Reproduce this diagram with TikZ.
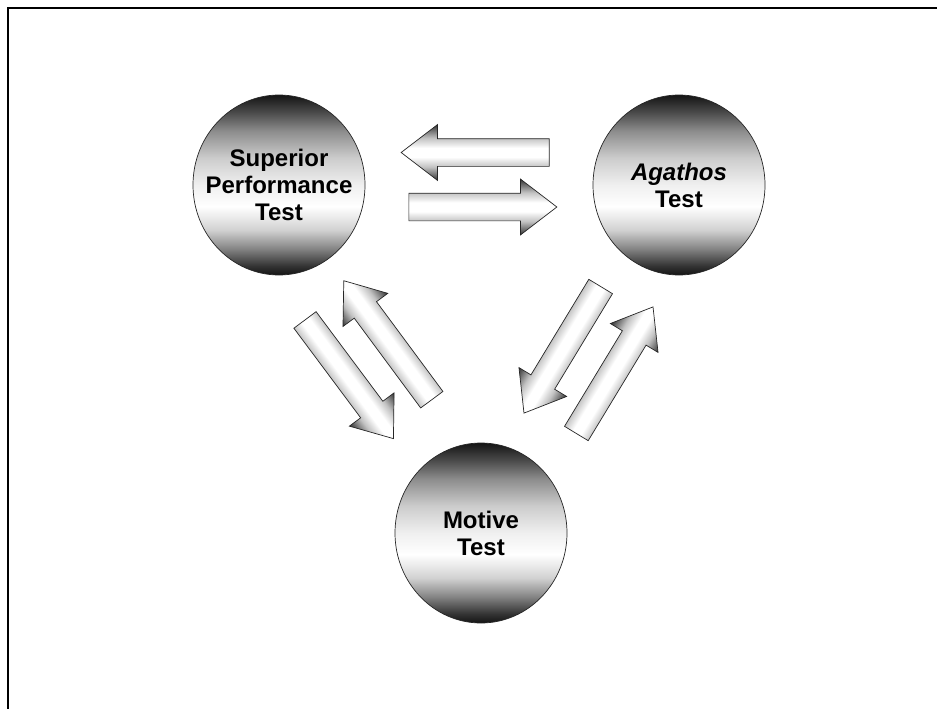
\documentclass[tikz,border=0pt]{standalone}
\usepackage{fontspec}
\setmainfont{Liberation Sans}
\usepackage{tikz}
\usetikzlibrary{shapes.geometric,shapes.arrows}

% shadings: dark rim top and bottom, light band below the middle
\pgfdeclareverticalshading{ballshade}{100bp}{%
  color(0bp)=(black!92); color(25bp)=(black!92); color(27.5bp)=(black!80);
  color(32.5bp)=(black!47); color(37.5bp)=(black!18); color(44bp)=(white);
  color(50bp)=(black!6); color(57.5bp)=(black!20); color(65bp)=(black!45);
  color(70bp)=(black!70); color(75bp)=(black!92); color(100bp)=(black!92)}
\pgfdeclareverticalshading{arrowshade}{100bp}{%
  color(0bp)=(black!80); color(25bp)=(black!80); color(37bp)=(black!24);
  color(46bp)=(white); color(54bp)=(white); color(63bp)=(black!24);
  color(75bp)=(black!80); color(100bp)=(black!80)}

\tikzset{
  testball/.style={ellipse, draw=black!85, line width=0.7pt, shading=ballshade,
    minimum width=172, minimum height=180, inner sep=0pt},
  testtext/.style={align=center, inner sep=0pt,
    font=\bfseries\fontsize{24}{27}\selectfont},
  blockarrow/.style={single arrow, draw=black!85, line width=0.7pt,
    shading=arrowshade, minimum height=148, inner xsep=0pt, inner ysep=13.5pt,
    single arrow head extend=14pt, single arrow tip angle=75, anchor=tail}
}

\begin{document}
\begin{tikzpicture}[x=1pt, y=-1pt]
  \useasboundingbox (0,0) rectangle (937,709);
  % frame (top and left edge only)
  \draw[line width=2.2pt] (937,7.7) -- (7.7,7.7) -- (7.7,709);

  % the three tests
  \node[testball] (spt) at (279,185) {};
  \node[testball] (aga) at (679,185) {};
  \node[testball] (mot) at (481,533) {};
  \node[testtext] (spttext) at (spt) {Superior\\Performance\\Test};
  \node[testtext] (agatext) at (aga) {\textit{Agathos}\\Test};
  \node[testtext] (mottext) at (mot) {Motive\\Test};

  % block arrows between the tests
  \foreach \nm/\cx/\cy/\ang in {ag2sp/475.5/152.5/180, sp2ag/482.5/207/0,
      sp2mo/349/379/-53.3, mo2sp/388/340.5/126.5,
      ag2mo/562.5/349.5/-121.2, mo2ag/614.5/370.5/58.8} {
    \begin{scope}[transform canvas={shift={(\cx,\cy)}, rotate=\ang}]
      \node[blockarrow] (\nm) at (-74,0) {};
    \end{scope}
  }
\end{tikzpicture}
\end{document}
